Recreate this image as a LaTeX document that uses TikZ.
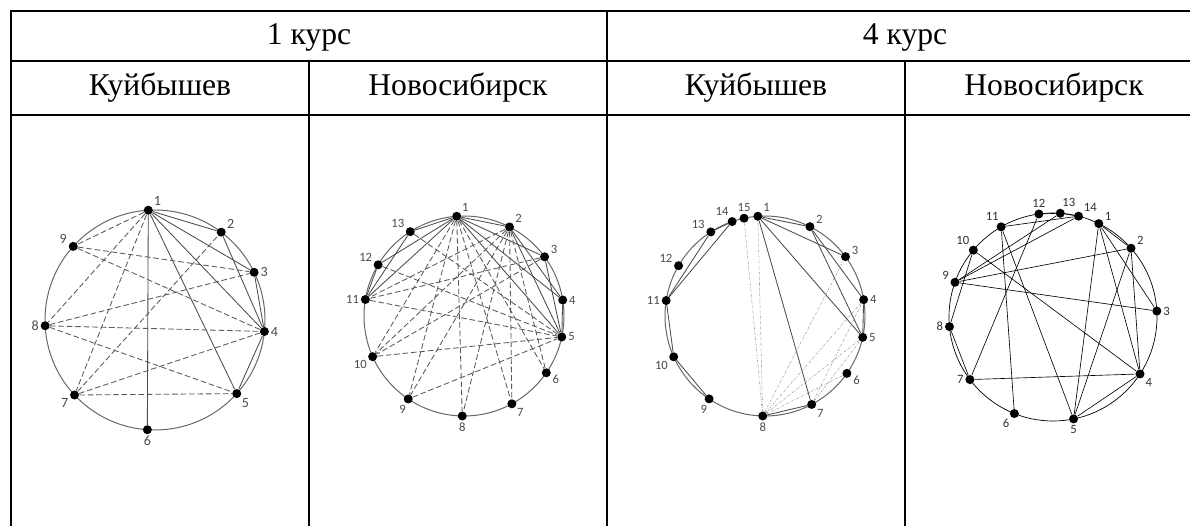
\documentclass[tikz,border=0pt]{standalone}
\usepackage{fontspec}
\setmainfont{Liberation Serif}
\newfontfamily\numfont{Carlito}

\tikzset{
  tbl/.style={line width=1.4pt},
  hd/.style={font=\fontsize{22.5}{26}\selectfont, anchor=base, inner sep=0pt},
  dot/.style={circle, fill=black, inner sep=0pt, minimum size=6.4pt},
  lbl/.style={font=\numfont\fontsize{9}{9}\selectfont, text=black!70, inner sep=1pt},
  ring/.style={draw=black!60, line width=0.7pt},
  ln/.style={draw=black!70, line width=0.6pt},
  dln/.style={draw=black!65, line width=0.6pt, dash pattern=on 4pt off 2pt},
  dotln/.style={draw=black!40, line width=0.4pt, dash pattern=on 1.5pt off 1pt on 0.4pt off 1pt},
}

\begin{document}
\begin{tikzpicture}[x=0.025cm, y=0.025cm]
    \useasboundingbox (0,0) rectangle (1190,526);
    \clip (0,0) rectangle (1190,526);
    \fill[white] (0,0) rectangle (1190,526);

    % table
    \draw[tbl] (11,0) -- (11,515) -- (1203,515) -- (1203,0);
    \draw[tbl] (11,465) -- (1203,465);
    \draw[tbl] (11,411) -- (1203,411);
    \draw[tbl] (607,0) -- (607,515);
    \foreach \x in {309, 905} {
            \draw[tbl] (\x,0) -- (\x,465);
        }
    \node[hd] (kurs1) at (309,481) {1 курс};
    \node[hd] (kurs4) at (905,481) {4 курс};
    \foreach \x/\t/\c in {160/Куйбышев/k1, 458/Новосибирск/n1, 756/Куйбышев/k4, 1054/Новосибирск/n4} {
            \node[hd] (\c) at (\x,430) {\t};
        }

    % 1 курс, Куйбышев
    \begin{scope}[shift={(155,206)}]
        \draw[ring] (0,0) circle (110);
        \foreach \n/\ang/\lp in {1/93.5/35, 2/53/30, 3/25.7/0, 4/-6/0, 5/-42/-45, 6/-94/-90, 7/-137/-160, 8/-177/180, 9/138/170} {
                \node[dot, label={[lbl, font=\numfont\fontsize{10}{10}\selectfont]\lp:\n}] (a\n) at (\ang:110) {};
            }
        \foreach \u/\v in {1/2, 1/3, 1/4, 1/5, 1/6, 2/4, 3/4, 4/5} {
                \draw[ln] (a\u) -- (a\v);
            }
        \foreach \u/\v in {1/9, 1/8, 1/7, 9/3, 9/4, 8/3, 8/4, 8/5, 7/2, 7/4, 7/5} {
                \draw[dln] (a\u) -- (a\v);
            }
    \end{scope}

    % 1 курс, Новосибирск
    \begin{scope}[shift={(464,210)}]
        \draw[ring] (0,0) circle (100);
        \foreach \n/\ang/\lp in {1/94.2/40, 2/62.9/30, 3/36.3/15, 4/9.2/0, 5/-12.1/0, 6/-34.6/-10, 7/-61.4/-40, 8/-91/-90, 9/-123.9/-100, 10/-156/-150, 11/170.5/180, 12/149.2/155, 13/122.5/155} {
                \node[dot, label={[lbl]\lp:\n}] (b\n) at (\ang:100) {};
            }
        \foreach \u/\v in {1/2, 1/3, 1/4, 1/5, 2/4, 2/5, 3/5, 4/5, 1/13, 1/12, 1/11, 13/11, 12/11} {
                \draw[ln] (b\u) -- (b\v);
            }
        \foreach \u/\v in {1/6, 1/7, 1/8, 1/9, 1/10, 2/6, 2/7, 2/8, 2/9, 2/10, 2/11, 3/11, 3/10, 13/5, 12/5, 11/5, 10/5, 9/5} {
                \draw[dln] (b\u) -- (b\v);
            }
    \end{scope}

    % 4 курс, Куйбышев
    \begin{scope}[shift={(765,210)}]
        \draw[ring] (0,0) circle (100);
        \foreach \n/\ang/\lp in {1/94.1/35, 2/63.3/20, 3/36.4/10, 4/9.4/0, 5/-12.3/0, 6/-35/-10, 7/-62.2/-35, 8/-91.3/-90, 9/-124/-95, 10/-155.9/-150, 11/171.1/180, 12/149.8/160, 13/122.8/160, 14/109.2/115, 15/102.1/90} {
                \node[dot, label={[lbl]\lp:\n}] (c\n) at (\ang:100) {};
            }
        \foreach \u/\v in {1/2, 1/3, 1/5, 1/7, 2/4, 2/5, 4/5, 7/8, 14/13, 14/11, 13/11, 11/10, 10/9} {
                \draw[ln] (c\u) -- (c\v);
            }
        \foreach \u/\v in {8/15, 8/1, 8/3, 8/4, 8/5, 8/6, 7/4, 7/5} {
                \draw[dotln] (c\u) -- (c\v);
            }
    \end{scope}

    % 4 курс, Новосибирск
    \begin{scope}[shift={(1053,209)}]
        \draw[ring, draw=black, line width=0.5pt] (0,0) circle (104);
        \foreach \n/\ang/\lp in {1/63.9/20, 2/41.4/20, 3/3.3/0, 4/-33.2/-35, 5/-78.6/-90, 6/-111.8/-135, 7/-143/180, 8/-174.7/180, 9/160.5/165, 10/140/120, 11/119.9/100, 12/97.8/90, 13/86/85, 14/75.8/40} {
                \node[dot, label={[lbl, text=black!80]\lp:\n}] (d\n) at (\ang:104) {};
            }
        \foreach \u/\v in {1/2, 1/3, 1/4, 1/5, 2/4, 2/5, 2/9, 9/3, 4/5, 4/7, 4/10, 11/5, 11/6, 11/14, 12/7, 13/9, 14/9, 10/8, 8/7, 12/13, 13/14} {
                \draw[ln, draw=black, line width=0.45pt] (d\u) -- (d\v);
            }
    \end{scope}
\end{tikzpicture}
\end{document}
